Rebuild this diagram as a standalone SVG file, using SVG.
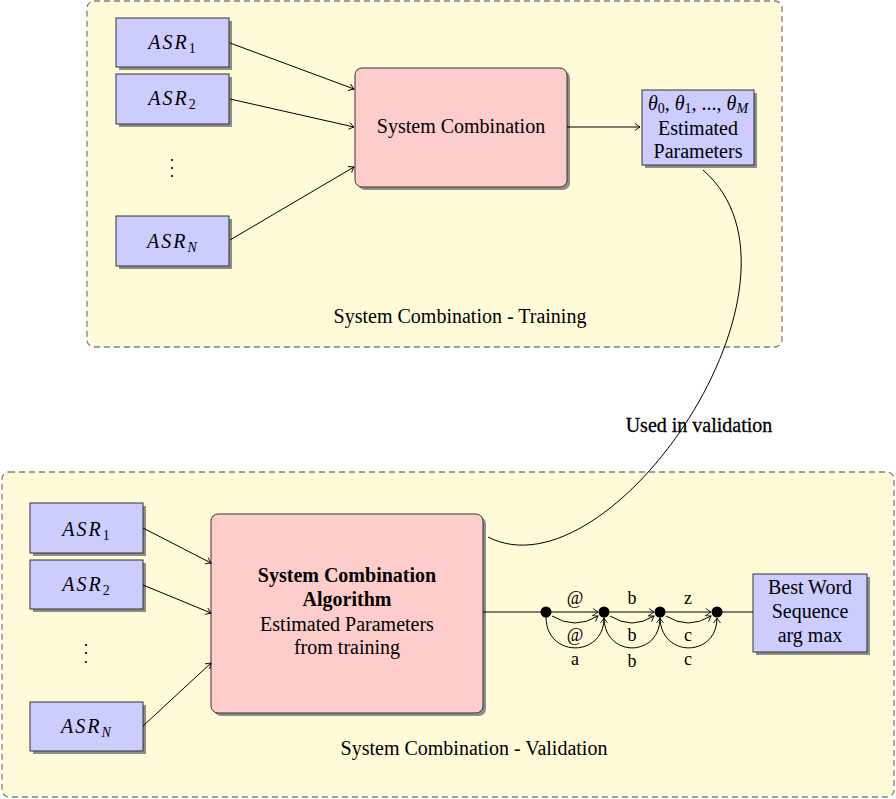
<svg xmlns="http://www.w3.org/2000/svg" width="896" height="799" viewBox="0 0 896 799">
<defs>
<marker id="to" viewBox="-6 -4 7 8" markerWidth="7" markerHeight="8" refX="0" refY="0" orient="auto" markerUnits="userSpaceOnUse">
<path d="M-5,-3.5 Q-1.5,-0.8 0,0 Q-1.5,0.8 -5,3.5" fill="none" stroke="#000" stroke-width="0.9"/>
</marker>
<style>
.cont{fill:#fffad7;stroke:#808080;stroke-width:1.3;stroke-dasharray:6 4}
.shadow{fill:#7a7a7a;opacity:0.85}
.blue{fill:#ccccff;stroke:#333;stroke-width:1}
.pink{fill:#ffcccc;stroke:#333;stroke-width:1}
text{font-family:"Liberation Serif","Times New Roman",serif;font-size:20px;fill:#000;text-anchor:middle}
.it{font-style:italic}
.asr{font-style:italic;letter-spacing:2px}
.sub{font-size:14px}
.b{font-weight:bold}
.lbl{font-size:18px}
.edge{fill:none;stroke:#000;stroke-width:1}
.arr{marker-end:url(#to)}
</style>
</defs>
<g id="training-container">
<rect class="cont" x="87" y="1" width="695" height="346" rx="7"/>
<text x="460" y="323">System Combination - Training</text>
</g>
<g id="validation-container">
<rect class="cont" x="2" y="472" width="892" height="325" rx="7"/>
<text x="474" y="755">System Combination - Validation</text>
</g>

<g id="t-asr1"><rect class="shadow" x="119" y="21" width="113" height="49"/><rect class="blue" x="116" y="18" width="113" height="49"/><text x="172" y="49"><tspan class="asr">ASR</tspan><tspan class="sub" baseline-shift="-4">1</tspan></text></g>
<g id="t-asr2"><rect class="shadow" x="119" y="77" width="113" height="50"/><rect class="blue" x="116" y="74" width="113" height="50"/><text x="172" y="105"><tspan class="asr">ASR</tspan><tspan class="sub" baseline-shift="-4">2</tspan></text></g>
<g id="t-dots"><circle cx="172" cy="160" r="1.1"/><circle cx="172" cy="168" r="1.1"/><circle cx="172" cy="176" r="1.1"/></g>
<g id="t-asrN"><rect class="shadow" x="119" y="219" width="113" height="50"/><rect class="blue" x="116" y="216" width="113" height="50"/><text x="172" y="248"><tspan class="asr">ASR</tspan><tspan class="sub it" baseline-shift="-4">N</tspan></text></g>
<g id="t-syscomb"><rect class="shadow" x="358" y="71" width="212" height="119" rx="7"/><rect class="pink" x="355" y="68" width="212" height="119" rx="7"/><text x="461" y="133">System Combination</text></g>
<g id="t-params"><rect class="shadow" x="645" y="93" width="112" height="75"/><rect class="blue" x="642" y="90" width="112" height="75"/>
<text x="698" y="110"><tspan class="it">θ</tspan><tspan class="sub" baseline-shift="-3">0</tspan>, <tspan class="it">θ</tspan><tspan class="sub" baseline-shift="-3">1</tspan>, ..., <tspan class="it">θ</tspan><tspan class="sub it" baseline-shift="-3">M</tspan></text>
<text x="698" y="135">Estimated</text><text x="698" y="158">Parameters</text></g>

<g id="v-asr1"><rect class="shadow" x="33" y="506" width="113" height="50"/><rect class="blue" x="30" y="503" width="113" height="50"/><text x="86" y="536"><tspan class="asr">ASR</tspan><tspan class="sub" baseline-shift="-4">1</tspan></text></g>
<g id="v-asr2"><rect class="shadow" x="33" y="563" width="113" height="49"/><rect class="blue" x="30" y="560" width="113" height="49"/><text x="86" y="591"><tspan class="asr">ASR</tspan><tspan class="sub" baseline-shift="-4">2</tspan></text></g>
<g id="v-dots"><circle cx="86" cy="645" r="1.1"/><circle cx="86" cy="653" r="1.1"/><circle cx="86" cy="662" r="1.1"/></g>
<g id="v-asrN"><rect class="shadow" x="33" y="705" width="113" height="49"/><rect class="blue" x="30" y="702" width="113" height="49"/><text x="86" y="733"><tspan class="asr">ASR</tspan><tspan class="sub it" baseline-shift="-4">N</tspan></text></g>
<g id="v-algo"><rect class="shadow" x="214" y="517" width="272" height="199" rx="7"/><rect class="pink" x="211" y="514" width="272" height="199" rx="7"/>
<text x="347" y="582" class="b">System Combination</text><text x="347" y="606" class="b">Algorithm</text>
<text x="347" y="631">Estimated Parameters</text><text x="347" y="654">from training</text></g>
<g id="v-best"><rect class="shadow" x="756" y="577" width="114" height="78"/><rect class="blue" x="753" y="574" width="114" height="78"/>
<text x="810" y="594">Best Word</text><text x="810" y="618">Sequence</text><text x="810" y="642">arg max</text></g>

<g id="lattice-nodes">
<circle cx="546" cy="612" r="5.5"/><circle cx="604" cy="612" r="5.5"/><circle cx="660" cy="612" r="5.5"/><circle cx="717" cy="612" r="5.5"/>
</g>

<g id="connectors">
<line class="edge arr" x1="230" y1="43" x2="354" y2="89"/>
<line class="edge arr" x1="230" y1="99" x2="354" y2="127"/>
<line class="edge arr" x1="230" y1="240" x2="354" y2="167"/>
<line class="edge arr" x1="567" y1="127" x2="640" y2="127"/>
<line class="edge arr" x1="143" y1="528" x2="211" y2="563"/>
<line class="edge arr" x1="143" y1="585" x2="211" y2="613"/>
<line class="edge arr" x1="143" y1="726" x2="211" y2="663"/>
<path class="edge" d="M703,170 C830,280 610,600 488,537"/>
<text x="699" y="432" style="stroke:#000;stroke-width:0.3">Used in validation</text>
<line class="edge" x1="483" y1="612" x2="546" y2="612"/>
<line class="edge" x1="717" y1="612" x2="753" y2="612"/>
<line class="edge arr" x1="546" y1="612" x2="598" y2="612"/>
<line class="edge arr" x1="604" y1="612" x2="654" y2="612"/>
<line class="edge arr" x1="660" y1="612" x2="711" y2="612"/>
<path class="edge arr" d="M552,616 Q575,630 598,616"/>
<path class="edge arr" d="M610,616 Q632,630 654,616"/>
<path class="edge arr" d="M666,616 Q688,630 711,616"/>
<path class="edge arr" d="M546,617 C546,658 604,658 604,618"/>
<path class="edge arr" d="M604,617 C604,658 660,658 660,618"/>
<path class="edge arr" d="M660,617 C660,658 717,658 717,618"/>
<text class="lbl" x="575" y="604">@</text><text class="lbl" x="632" y="604">b</text><text class="lbl" x="688" y="604">z</text>
<text class="lbl" x="575" y="641">@</text><text class="lbl" x="632" y="641">b</text><text class="lbl" x="688" y="641">c</text>
<text class="lbl" x="575" y="665">a</text><text class="lbl" x="632" y="667">b</text><text class="lbl" x="688" y="665">c</text>
</g>
</svg>
